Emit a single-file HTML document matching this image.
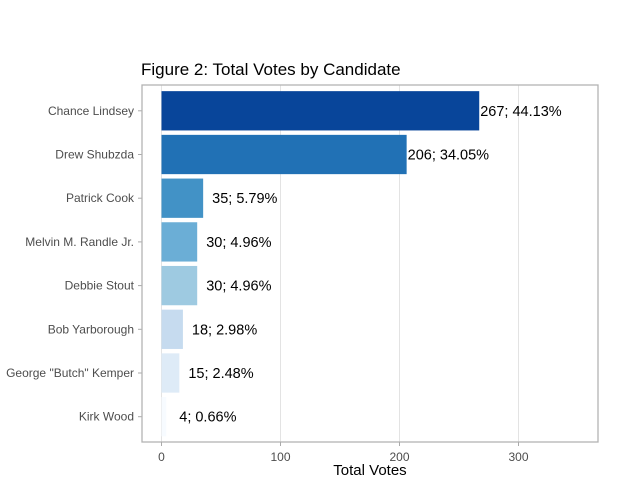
<!DOCTYPE html>
<html><head><meta charset="utf-8">
<style>
body{margin:0;background:#fff;}
svg{display:block;font-family:"Liberation Sans",sans-serif;}
</style></head>
<body>
<svg id="chart" width="637" height="494"></svg>
<script>
const candidates=["Chance Lindsey","Drew Shubzda","Patrick Cook","Melvin M. Randle Jr.","Debbie Stout","Bob Yarborough","George \"Butch\" Kemper","Kirk Wood"];
const votes=[267,206,35,30,30,18,15,4];
const percents=["44.13%","34.05%","5.79%","4.96%","4.96%","2.98%","2.48%","0.66%"];
const colors=["#08459a","#2171b5","#4292c6","#6baed6","#9ecae1","#c6dbef","#deebf7","#f7fbff"];
const ticks=[0,100,200,300];

const NS="http://www.w3.org/2000/svg";
const svg=document.getElementById('chart');
const L=142,R=598,T=85,B=442;
const x=v=>161.5+v*1.19;
const step=43.7;
const y=i=>110.8+step*i;
function mk(tag,attrs,parent){const e=document.createElementNS(NS,tag);for(const k in attrs)e.setAttribute(k,attrs[k]);(parent||svg).appendChild(e);return e;}

const title=mk('text',{x:141,y:75,'font-size':17,fill:'#000'});


title.textContent='Figure 2: Total Votes by Candidate';

ticks.forEach(t=>{
  const g=mk('line',{x1:x(t),x2:x(t),y1:T,y2:B,stroke:'#e3e3e3','stroke-width':1});
  
  
  const tl=mk('text',{x:x(t),y:461,'font-size':12,fill:'#4d4d4d','text-anchor':'middle'});
  
  
  tl.textContent=t;
});

candidates.forEach((c,i)=>{
  const bh=39.3;
  const r=mk('rect',{x:x(0),y:y(i)-bh/2,width:x(votes[i])-x(0),height:bh,fill:colors[i]});
  
  
  const off=votes[i]>100?1:(votes[i]<10?13:9);
  const lab=mk('text',{x:x(votes[i])+off,y:y(i)+5,'font-size':14.5,fill:'#000'});
  
  
  lab.textContent=votes[i]+'; '+percents[i];
  const cl=mk('text',{x:134,y:y(i)+4,'font-size':12,fill:'#4d4d4d','text-anchor':'end'});
  
  
  cl.textContent=c;
  mk('line',{x1:138,x2:142,y1:y(i),y2:y(i),stroke:'#aaa'});
});

const panel=mk('rect',{x:L,y:T,width:R-L,height:B-T,fill:'none',stroke:'#b3b3b3','stroke-width':1.3});


ticks.forEach(t=>mk('line',{x1:x(t),x2:x(t),y1:B,y2:B+4,stroke:'#aaa'}));

const xt=mk('text',{x:370,y:475,'font-size':15,fill:'#000','text-anchor':'middle'});


xt.textContent='Total Votes';
</script>
</body></html>
